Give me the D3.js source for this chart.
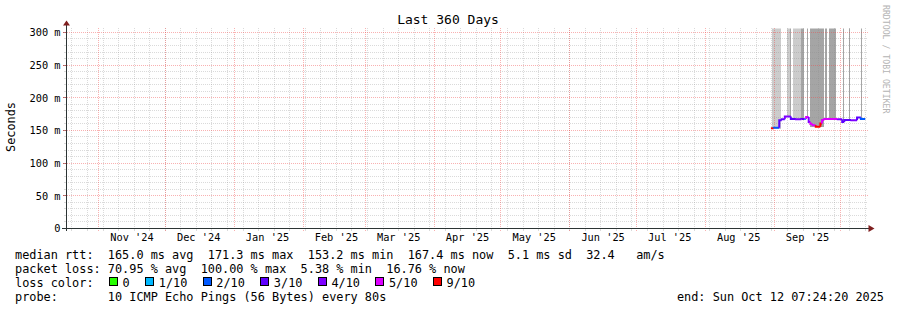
<!DOCTYPE html>
<html><head><meta charset="utf-8">
<script src="https://cdn.jsdelivr.net/npm/d3@7"></script>
<style>
html,body{margin:0;padding:0;background:#fff;}
svg{display:block;}
text{font-family:"DejaVu Sans Mono",monospace;fill:#000;}
</style></head><body>
<svg id="c" width="897" height="310"></svg>
<script>
// ---------- data ----------
const titleText = "Last 360 Days";
const endTime = "2025-10-12 07:24:20";
const spanDays = 360;
const yMax = 306;
const yTicks = [0, 50, 100, 150, 200, 250, 300];
const yTickLabels = ["0", "50 m", "100 m", "150 m", "200 m", "250 m", "300 m"];
const yMinorStep = 10;
const monthLabelFormat = "%b '%y";

// median RTT (ms), step segments starting at each time
const medianTimes = [
  "2025-08-30 18:00", "2025-09-01 01:00", "2025-09-03 12:00", "2025-09-04 15:00",
  "2025-09-06 00:00", "2025-09-08 17:00", "2025-09-11 00:00", "2025-09-13 12:00",
  "2025-09-15 00:00", "2025-09-15 14:00", "2025-09-16 18:00", "2025-09-17 12:00",
  "2025-09-18 12:00", "2025-09-19 22:00", "2025-09-22 00:00", "2025-09-22 18:00",
  "2025-09-23 18:00", "2025-09-29 20:00", "2025-10-01 20:00", "2025-10-02 18:00",
  "2025-10-06 00:00", "2025-10-08 12:00", "2025-10-10 06:00"
];
const medianValues = [
  153.2, 154.0, 165.5, 167.0,
  171.3, 167.5, 167.0, 167.5,
  167.5, 170.5, 163.0, 160.0,
  158.0, 155.5, 160.5, 166.0,
  167.5, 167.0, 163.0, 166.0,
  165.5, 170.0, 167.4
];
// index into lossLabels / lossColors
const medianLoss = [
  6, 2, 3, 3,
  4, 3, 4, 3,
  1, 5, 4, 5,
  5, 6, 6, 5,
  5, 4, 3, 3,
  4, 3, 2
];

// smoke (ping spread), ms
const smokeStart = [
  "2025-08-31 03:00", "2025-09-06 21:00", "2025-09-08 06:00", "2025-09-09 14:00",
  "2025-09-13 05:00", "2025-09-15 21:00", "2025-09-17 06:00", "2025-09-24 00:00",
  "2025-09-25 19:00", "2025-10-02 02:00", "2025-10-04 19:00", "2025-10-10 05:00"
];
const smokeEnd = [
  "2025-09-04 05:00", "2025-09-08 06:00", "2025-09-08 17:00", "2025-09-13 05:00",
  "2025-09-14 13:00", "2025-09-16 08:00", "2025-09-23 13:00", "2025-09-24 22:00",
  "2025-09-28 23:00", "2025-10-02 13:00", "2025-10-05 06:00", "2025-10-10 15:00"
];
const smokeLow = [153, 170, 168, 167, 167, 170, 156, 167, 167, 163, 165, 168];
const smokeHigh = [420, 420, 420, 420, 420, 420, 420, 420, 420, 420, 420, 420];
const smokeShade = [0, 0, 1, 0, 1, 1, 1, 1, 1, 1, 1, 1];
const smokeColors = ["#cccccc", "#a5a5a5"];

const lossLabels = ["0", "1/10", "2/10", "3/10", "4/10", "5/10", "9/10"];
const lossColors = ["#26ff00", "#00b8ff", "#0059ff", "#5e00ff", "#7e00ff", "#dd00ff", "#ff0000"];

const legendRows = [
  "median rtt:  165.0 ms avg  171.3 ms max  153.2 ms min  167.4 ms now  5.1 ms sd  32.4   am/s",
  "packet loss: 70.95 % avg  100.00 % max  5.38 % min  16.76 % now",
  "loss color:",
  "probe:       10 ICMP Echo Pings (56 Bytes) every 80s"
];
const endLabel = "end: Sun Oct 12 07:24:20 2025";
const unitLabel = "Seconds";
const watermark = "RRDTOOL / TOBI OETIKER";

// ---------- drawing ----------
const parse = d3.utcParse("%Y-%m-%d %H:%M");
const parseS = d3.utcParse("%Y-%m-%d %H:%M:%S");
const tEnd = parseS(endTime);
const tStart = d3.utcDay.offset(tEnd, -spanDays);

const L = 65.5, R = 865.5, B = 228.5, T = 28.5;
const x = d3.scaleUtc().domain([tStart, tEnd]).range([L, R]);
const y = d3.scaleLinear().domain([0, yMax]).range([B, T]);
const sx = t => Math.round(x(t)) + 0.5;
const sy = v => Math.round(y(v) - 0.5) + 0.5;

const svg = d3.select("#c");
svg.append("rect").attr("width", 897).attr("height", 310).attr("fill", "#fff");

svg.append("defs").append("clipPath").attr("id", "plot")
  .append("rect").attr("x", L).attr("y", T).attr("width", R - L).attr("height", B - T);

// smoke
const smoke = smokeStart.map((s, i) => ({
  a: parse(s), b: parse(smokeEnd[i]), lo: smokeLow[i], hi: smokeHigh[i], c: smokeColors[smokeShade[i]]
}));
svg.append("g").attr("clip-path", "url(#plot)").attr("shape-rendering", "crispEdges")
  .selectAll("rect").data(smoke).join("rect")
  .attr("x", d => Math.round(x(d.a)))
  .attr("width", d => Math.max(1, Math.round(x(d.b)) - Math.round(x(d.a))))
  .attr("y", d => y(d.hi))
  .attr("height", d => y(d.lo) - y(d.hi))
  .attr("fill", d => d.c);

// grid
const minorCol = "rgba(140,140,140,0.32)";
const majorCol = "rgba(240,70,70,0.42)";
const grid = svg.append("g").attr("shape-rendering", "crispEdges").attr("fill", "none");

const weeks = d3.utcSunday.range(tStart, tEnd);
const months = d3.utcMonth.range(tStart, tEnd);
const minorH = d3.range(yMinorStep, yMax, yMinorStep).filter(v => v % 50 !== 0);
const majorH = yTicks.filter(v => v > 0);

grid.selectAll(".wv").data(weeks).join("line")
  .attr("x1", sx).attr("x2", sx).attr("y1", B).attr("y2", T - 2)
  .attr("stroke", minorCol).attr("stroke-dasharray", "1,1");
grid.selectAll(".wt").data(weeks).join("line")
  .attr("x1", sx).attr("x2", sx).attr("y1", B).attr("y2", B + 2)
  .attr("stroke", minorCol);
grid.selectAll(".hv").data(minorH).join("line")
  .attr("x1", L).attr("x2", R + 2).attr("y1", sy).attr("y2", sy)
  .attr("stroke", minorCol).attr("stroke-dasharray", "1,1");
grid.selectAll(".ht").data(minorH).join("line")
  .attr("x1", L - 2).attr("x2", L + 1).attr("y1", sy).attr("y2", sy)
  .attr("stroke", minorCol);
grid.selectAll(".mv").data(months).join("line")
  .attr("x1", sx).attr("x2", sx).attr("y1", B + 2).attr("y2", T - 2)
  .attr("stroke", majorCol).attr("stroke-dasharray", "1,1");
grid.selectAll(".mh").data(majorH).join("line")
  .attr("x1", L - 3).attr("x2", R + 2).attr("y1", sy).attr("y2", sy)
  .attr("stroke", majorCol).attr("stroke-dasharray", "1,1");
grid.selectAll(".mht").data(yTicks).join("line")
  .attr("x1", L - 3).attr("x2", L + 1).attr("y1", sy).attr("y2", sy)
  .attr("stroke", "rgba(140,40,40,0.6)");

// median line
const segs = medianTimes.map((s, i) => ({
  t0: parse(s),
  t1: i + 1 < medianTimes.length ? parse(medianTimes[i + 1]) : tEnd,
  vPrev: i > 0 ? medianValues[i - 1] : medianValues[i],
  v: medianValues[i],
  c: lossColors[medianLoss[i]]
}));
const line = d3.line().x(d => x(d[0])).y(d => y(d[1]));
svg.append("g").attr("clip-path", "url(#plot)")
  .selectAll("path").data(segs).join("path")
  .attr("d", d => line([[d.t0, d.vPrev], [d.t0, d.v], [d.t1, d.v]]))
  .attr("fill", "none").attr("stroke", d => d.c).attr("stroke-width", 2);

// axes
const axisCol = "#2c3434";
const yAxis = d3.axisLeft(y).tickValues(yTicks).tickFormat((d, i) => yTickLabels[i])
  .tickSize(0).tickPadding(6);
const gy = svg.append("g").attr("transform", `translate(${L + 1},0)`).call(yAxis);
gy.select(".domain").remove();
gy.selectAll("text").attr("font-family", "DejaVu Sans Mono").attr("font-size", 10.3).attr("fill", "#000");

const labelDates = months.map(m => d3.utcDay.offset(m, 15)).filter(d => d > tStart && d < tEnd);
const xAxis = d3.axisBottom(x).tickValues(labelDates).tickFormat(d3.utcFormat(monthLabelFormat))
  .tickSize(0).tickPadding(5.5);
const gx = svg.append("g").attr("transform", `translate(0,${B})`).call(xAxis);
gx.select(".domain").remove();
gx.selectAll("text").attr("font-family", "DejaVu Sans Mono").attr("font-size", 10.3).attr("fill", "#000");

svg.append("line").attr("x1", L + 1).attr("x2", L + 1).attr("y1", B + 2).attr("y2", T - 5)
  .attr("stroke", axisCol).attr("shape-rendering", "crispEdges");
svg.append("line").attr("x1", L - 4).attr("x2", R + 4).attr("y1", B).attr("y2", B)
  .attr("stroke", axisCol).attr("shape-rendering", "crispEdges");
const arrowCol = "#7f1f1f";
svg.append("path").attr("fill", arrowCol)
  .attr("d", `M${L - 2.5},${T - 3}L${L + 4.5},${T - 3}L${L + 1},${T - 8}Z`);
svg.append("path").attr("fill", arrowCol)
  .attr("d", `M${R + 3},${B - 3.5}L${R + 3},${B + 3.5}L${R + 9},${B}Z`);

// title
svg.append("text").attr("x", 448).attr("y", 24).attr("text-anchor", "middle")
  .attr("font-size", 13).text(titleText);

// unit label
svg.append("text").attr("transform", "translate(15,127) rotate(-90)")
  .attr("text-anchor", "middle").attr("font-size", 11.86).text(unitLabel);

// watermark
svg.append("text").attr("transform", "translate(883,5) rotate(90)")
  .attr("text-anchor", "start").attr("font-size", 8.2).style("fill", "#b4b4b4").text(watermark);

// legend
const legFS = 11.86, cw = legFS * 0.602;
const rowY = [259, 273, 287, 301];
svg.append("g").selectAll("text").data(legendRows).join("text")
  .attr("x", 15).attr("y", (d, i) => rowY[i]).attr("font-size", legFS)
  .attr("xml:space", "preserve").style("white-space", "pre").text(d => d);

let bx = 15 + 13 * cw + 1.3;
const boxes = lossLabels.map((lab, i) => {
  const o = { x: bx, lab, c: lossColors[i] };
  bx += lab.length * cw + 29;
  return o;
});
const lg = svg.append("g");
lg.selectAll("rect").data(boxes).join("rect")
  .attr("x", d => Math.round(d.x) + 0.5).attr("y", 277.5).attr("width", 8).attr("height", 8)
  .attr("fill", d => d.c).attr("stroke", "#000").attr("shape-rendering", "crispEdges");
lg.selectAll("text").data(boxes).join("text")
  .attr("x", d => d.x + 13.5).attr("y", rowY[2]).attr("font-size", legFS).text(d => d.lab);

svg.append("text").attr("x", 884).attr("y", rowY[3]).attr("text-anchor", "end")
  .attr("font-size", legFS).attr("xml:space", "preserve").style("white-space", "pre").text(endLabel);
</script>
</body></html>
